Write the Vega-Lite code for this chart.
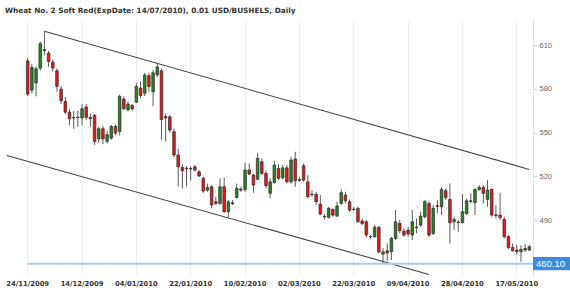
{
  "$schema": "https://vega.github.io/schema/vega-lite/v6.json",
  "width": 533,
  "height": 255,
  "autosize": {"type": "none"},
  "padding": {"left": 0, "top": 20, "right": 37, "bottom": 19},
  "background": "white",
  "title": {
    "text": "Wheat  No. 2 Soft Red(ExpDate: 14/07/2010), 0.01 USD/BUSHELS, Daily",
    "anchor": "start",
    "frame": "group",
    "dx": 5,
    "offset": 6,
    "font": "DejaVu Sans",
    "fontSize": 7.3,
    "fontWeight": "bold",
    "color": "#333333"
  },
  "config": {"view": {"stroke": null}},
  "datasets": {
    "candles": [
      {"date":"24/11/2009","open":599.2,"high":601.1,"low":575,"close":576.4},
      {"date":"25/11/2009","open":579.1,"high":597,"low":577,"close":594.7},
      {"date":"27/11/2009","open":584,"high":595.4,"low":574.8,"close":593.7},
      {"date":"30/11/2009","open":594.2,"high":612.5,"low":592.5,"close":610.9},
      {"date":"01/12/2009","open":606.8,"high":619.5,"low":603,"close":606.2},
      {"date":"02/12/2009","open":604.5,"high":606,"low":595,"close":598.8},
      {"date":"03/12/2009","open":598.3,"high":600,"low":591.9,"close":594.2},
      {"date":"04/12/2009","open":592.4,"high":594,"low":578,"close":581.7},
      {"date":"07/12/2009","open":579.8,"high":582,"low":569.6,"close":571.8},
      {"date":"08/12/2009","open":571.4,"high":574.5,"low":562.5,"close":564},
      {"date":"09/12/2009","open":564,"high":566,"low":555,"close":559.5},
      {"date":"10/12/2009","open":560.3,"high":564.8,"low":552.5,"close":560},
      {"date":"11/12/2009","open":560.3,"high":565,"low":554,"close":560.6},
      {"date":"14/12/2009","open":560,"high":569.4,"low":555,"close":566.3},
      {"date":"15/12/2009","open":567.5,"high":569.5,"low":558.5,"close":560.4},
      {"date":"16/12/2009","open":559.5,"high":563,"low":554,"close":560.5},
      {"date":"17/12/2009","open":561.8,"high":562.8,"low":541.5,"close":544},
      {"date":"18/12/2009","open":545.7,"high":554,"low":543,"close":552.6},
      {"date":"21/12/2009","open":552.6,"high":554.5,"low":542,"close":545.7},
      {"date":"22/12/2009","open":544,"high":551.2,"low":542.6,"close":548.5},
      {"date":"23/12/2009","open":546.2,"high":555.3,"low":545,"close":554.2},
      {"date":"24/12/2009","open":554.2,"high":555.3,"low":548.5,"close":549.6},
      {"date":"28/12/2009","open":550.8,"high":576,"low":548,"close":574.8},
      {"date":"29/12/2009","open":573,"high":574.8,"low":565.6,"close":566.3},
      {"date":"30/12/2009","open":565.6,"high":571.4,"low":564.5,"close":569.5},
      {"date":"31/12/2009","open":568.6,"high":569.5,"low":565,"close":566.3},
      {"date":"04/01/2010","open":570.9,"high":584,"low":570.2,"close":581.7},
      {"date":"05/01/2010","open":580.5,"high":585,"low":573.7,"close":575.5},
      {"date":"06/01/2010","open":577,"high":591,"low":575,"close":589.5},
      {"date":"07/01/2010","open":589,"high":591,"low":578,"close":581.5},
      {"date":"08/01/2010","open":578,"high":593,"low":568,"close":591},
      {"date":"11/01/2010","open":589.5,"high":598,"low":588,"close":595},
      {"date":"12/01/2010","open":592.4,"high":594,"low":545,"close":559},
      {"date":"13/01/2010","open":560,"high":563,"low":544,"close":561},
      {"date":"14/01/2010","open":560.8,"high":562,"low":550,"close":551.7},
      {"date":"15/01/2010","open":550.6,"high":552.7,"low":533,"close":534.6},
      {"date":"19/01/2010","open":534.6,"high":539,"low":513,"close":526.5},
      {"date":"20/01/2010","open":526.1,"high":528.4,"low":511.7,"close":523.8},
      {"date":"21/01/2010","open":525.6,"high":527,"low":513,"close":525.2},
      {"date":"22/01/2010","open":525.3,"high":527,"low":517,"close":525},
      {"date":"25/01/2010","open":526.5,"high":527.7,"low":523.2,"close":524.3},
      {"date":"26/01/2010","open":523.1,"high":524.3,"low":519.5,"close":520.2},
      {"date":"27/01/2010","open":518.6,"high":519.7,"low":508.7,"close":509.9},
      {"date":"28/01/2010","open":510.5,"high":515,"low":509.4,"close":512.3},
      {"date":"29/01/2010","open":512.8,"high":514,"low":498,"close":500.3},
      {"date":"01/02/2010","open":502.5,"high":506,"low":500.3,"close":501.4},
      {"date":"02/02/2010","open":501.4,"high":518.6,"low":500.3,"close":512.8},
      {"date":"03/02/2010","open":512.8,"high":519.2,"low":495,"close":495.7},
      {"date":"04/02/2010","open":495.7,"high":503.7,"low":491.8,"close":502.5},
      {"date":"05/02/2010","open":501.8,"high":503.7,"low":500.3,"close":501.2},
      {"date":"08/02/2010","open":505.5,"high":515,"low":504.8,"close":511.7},
      {"date":"09/02/2010","open":511.2,"high":512.8,"low":509.4,"close":510.5},
      {"date":"10/02/2010","open":511,"high":529.3,"low":509.4,"close":524.3},
      {"date":"11/02/2010","open":524.3,"high":528.8,"low":520.8,"close":521.5},
      {"date":"12/02/2010","open":520.8,"high":521.9,"low":508.7,"close":514},
      {"date":"16/02/2010","open":517.9,"high":536.2,"low":517.4,"close":532.3},
      {"date":"17/02/2010","open":530,"high":532.3,"low":520.8,"close":522},
      {"date":"18/02/2010","open":522,"high":524,"low":511.8,"close":513.5},
      {"date":"19/02/2010","open":508.3,"high":518.6,"low":504.8,"close":516.2},
      {"date":"22/02/2010","open":515.6,"high":530.7,"low":515.1,"close":527.7},
      {"date":"23/02/2010","open":525.4,"high":528.4,"low":517.4,"close":518.6},
      {"date":"24/02/2010","open":519,"high":527.7,"low":517.9,"close":525.8},
      {"date":"25/02/2010","open":525.8,"high":527.7,"low":515.1,"close":516.2},
      {"date":"26/02/2010","open":516.2,"high":533.4,"low":515.1,"close":531.1},
      {"date":"01/03/2010","open":531.8,"high":536.8,"low":512.8,"close":516.9},
      {"date":"02/03/2010","open":517.8,"high":519.7,"low":516.3,"close":517.2},
      {"date":"03/03/2010","open":527.2,"high":528.8,"low":516.2,"close":517.4},
      {"date":"04/03/2010","open":516.2,"high":520.8,"low":504.8,"close":506},
      {"date":"05/03/2010","open":507.8,"high":510.5,"low":506,"close":507.4},
      {"date":"08/03/2010","open":507.6,"high":509.4,"low":500.3,"close":502.5},
      {"date":"09/03/2010","open":500.9,"high":507.1,"low":493.4,"close":494.1},
      {"date":"10/03/2010","open":492.5,"high":494.1,"low":490.4,"close":492.2},
      {"date":"11/03/2010","open":491.8,"high":499.1,"low":491.1,"close":498},
      {"date":"12/03/2010","open":497.3,"high":498,"low":492.3,"close":493.4},
      {"date":"15/03/2010","open":492.7,"high":502.5,"low":492.3,"close":499.6},
      {"date":"16/03/2010","open":501.4,"high":511,"low":500.3,"close":508.7},
      {"date":"18/03/2010","open":507.1,"high":509.4,"low":501.4,"close":503.2},
      {"date":"19/03/2010","open":502.5,"high":504.1,"low":495.7,"close":496.8},
      {"date":"22/03/2010","open":497.5,"high":499.1,"low":496.4,"close":497.2},
      {"date":"23/03/2010","open":498,"high":499.1,"low":488.2,"close":488.8},
      {"date":"24/03/2010","open":489.3,"high":491.1,"low":486.5,"close":487.7},
      {"date":"25/03/2010","open":488.8,"high":490,"low":478.1,"close":479.7},
      {"date":"26/03/2010","open":478.6,"high":479.7,"low":477.4,"close":478.4},
      {"date":"29/03/2010","open":478.5,"high":486.5,"low":478.1,"close":485},
      {"date":"30/03/2010","open":485,"high":485.9,"low":467.1,"close":468.2},
      {"date":"31/03/2010","open":466.6,"high":470.7,"low":460.5,"close":468.2},
      {"date":"01/04/2010","open":468.9,"high":474,"low":462,"close":467.5},
      {"date":"05/04/2010","open":468.3,"high":478.5,"low":462.6,"close":477.4},
      {"date":"06/04/2010","open":477.4,"high":496.8,"low":476.3,"close":488.8},
      {"date":"07/04/2010","open":487.7,"high":490,"low":480.8,"close":482.7},
      {"date":"08/04/2010","open":482.4,"high":484.3,"low":478.5,"close":479.7},
      {"date":"09/04/2010","open":483.1,"high":485.4,"low":478.5,"close":480.4},
      {"date":"12/04/2010","open":479.7,"high":496.8,"low":476.3,"close":488.8},
      {"date":"13/04/2010","open":485.2,"high":491,"low":481,"close":484.8},
      {"date":"14/04/2010","open":486.5,"high":495.7,"low":485.4,"close":492.7},
      {"date":"15/04/2010","open":492.3,"high":503.7,"low":491.1,"close":502.6},
      {"date":"16/04/2010","open":501.4,"high":502.6,"low":478.5,"close":479.7},
      {"date":"19/04/2010","open":480.8,"high":500.3,"low":479.7,"close":498},
      {"date":"20/04/2010","open":499.8,"high":503.7,"low":494.5,"close":499.4},
      {"date":"21/04/2010","open":499.1,"high":512.8,"low":493.4,"close":511},
      {"date":"22/04/2010","open":510.1,"high":511.7,"low":503.7,"close":505.5},
      {"date":"23/04/2010","open":504.2,"high":515.1,"low":474,"close":488.2},
      {"date":"26/04/2010","open":488.8,"high":492.3,"low":483.1,"close":490.4},
      {"date":"27/04/2010","open":488.6,"high":490,"low":482,"close":488.2},
      {"date":"28/04/2010","open":488.2,"high":507.8,"low":487.7,"close":495.7},
      {"date":"29/04/2010","open":494.5,"high":504.8,"low":493.4,"close":503.2},
      {"date":"30/04/2010","open":503.2,"high":508.3,"low":501.4,"close":502.8},
      {"date":"03/05/2010","open":501.9,"high":511.7,"low":493.4,"close":511},
      {"date":"04/05/2010","open":511,"high":514,"low":510.1,"close":512.4},
      {"date":"05/05/2010","open":512.4,"high":514,"low":501.4,"close":508.3},
      {"date":"06/05/2010","open":504.2,"high":517.4,"low":499.1,"close":510.6},
      {"date":"07/05/2010","open":511,"high":511.7,"low":492.3,"close":493.4},
      {"date":"10/05/2010","open":493.6,"high":500.3,"low":491.1,"close":493.2},
      {"date":"11/05/2010","open":493.4,"high":508.7,"low":490,"close":491.8},
      {"date":"12/05/2010","open":490.4,"high":492.3,"low":477.4,"close":478.6},
      {"date":"13/05/2010","open":478.6,"high":479.7,"low":469.9,"close":471.2},
      {"date":"14/05/2010","open":471.2,"high":474,"low":468.3,"close":469},
      {"date":"17/05/2010","open":469.4,"high":472.8,"low":466,"close":468.3},
      {"date":"18/05/2010","open":468.3,"high":472.8,"low":461.4,"close":469.9},
      {"date":"19/05/2010","open":470.5,"high":473.5,"low":468.3,"close":469.4},
      {"date":"20/05/2010","open":469.4,"high":472.8,"low":469,"close":471.7}
    ],
    "trend": [
      {"from":"01/12/2009","to":"20/05/2010","p1":619.5,"p2":524.7},
      {"from":"17/11/2009","to":"16/04/2010","p1":534.2,"p2":452.7}
    ],
    "last": [{"date":"24/11/2009","price":460.1,"label":"460.10"}]
  },
  "layer": [
    {
      "data": {"name": "candles"},
      "mark": {"type": "rule", "color": "#5a5a5a", "strokeWidth": 1},
      "encoding": {
        "x": {
          "field": "date",
          "type": "ordinal",
          "sort": null,
          "scale": {
            "type": "band",
            "paddingInner": 0,
            "paddingOuter": 0.25,
            "align": 0.25,
            "domain": ["16/11/2009","17/11/2009","18/11/2009","19/11/2009","20/11/2009","23/11/2009","24/11/2009","25/11/2009","27/11/2009","30/11/2009","01/12/2009","02/12/2009","03/12/2009","04/12/2009","07/12/2009","08/12/2009","09/12/2009","10/12/2009","11/12/2009","14/12/2009","15/12/2009","16/12/2009","17/12/2009","18/12/2009","21/12/2009","22/12/2009","23/12/2009","24/12/2009","28/12/2009","29/12/2009","30/12/2009","31/12/2009","04/01/2010","05/01/2010","06/01/2010","07/01/2010","08/01/2010","11/01/2010","12/01/2010","13/01/2010","14/01/2010","15/01/2010","19/01/2010","20/01/2010","21/01/2010","22/01/2010","25/01/2010","26/01/2010","27/01/2010","28/01/2010","29/01/2010","01/02/2010","02/02/2010","03/02/2010","04/02/2010","05/02/2010","08/02/2010","09/02/2010","10/02/2010","11/02/2010","12/02/2010","16/02/2010","17/02/2010","18/02/2010","19/02/2010","22/02/2010","23/02/2010","24/02/2010","25/02/2010","26/02/2010","01/03/2010","02/03/2010","03/03/2010","04/03/2010","05/03/2010","08/03/2010","09/03/2010","10/03/2010","11/03/2010","12/03/2010","15/03/2010","16/03/2010","18/03/2010","19/03/2010","22/03/2010","23/03/2010","24/03/2010","25/03/2010","26/03/2010","29/03/2010","30/03/2010","31/03/2010","01/04/2010","05/04/2010","06/04/2010","07/04/2010","08/04/2010","09/04/2010","12/04/2010","13/04/2010","14/04/2010","15/04/2010","16/04/2010","19/04/2010","20/04/2010","21/04/2010","22/04/2010","23/04/2010","26/04/2010","27/04/2010","28/04/2010","29/04/2010","30/04/2010","03/05/2010","04/05/2010","05/05/2010","06/05/2010","07/05/2010","10/05/2010","11/05/2010","12/05/2010","13/05/2010","14/05/2010","17/05/2010","18/05/2010","19/05/2010","20/05/2010"]
          },
          "axis": {
            "title": null,
            "orient": "bottom",
            "values": ["24/11/2009","14/12/2009","04/01/2010","22/01/2010","10/02/2010","02/03/2010","22/03/2010","09/04/2010","28/04/2010","17/05/2010"],
            "grid": true,
            "gridColor": "#e6eef7",
            "gridWidth": 1,
            "domain": false,
            "ticks": false,
            "labelAngle": 0,
            "labelFont": "DejaVu Sans",
            "labelFontSize": 6.8,
            "labelFontWeight": "bold",
            "labelColor": "#333333",
            "labelPadding": 5,
            "labelOverlap": false,
            "labelFlush": false,
            "bandPosition": 0.5
          }
        },
        "y": {
          "field": "low",
          "type": "quantitative",
          "scale": {"domain": [452.3, 627.2], "nice": false, "zero": false},
          "axis": {
            "title": null,
            "orient": "right",
            "values": [490, 520, 550, 580, 610],
            "grid": false,
            "domainColor": "#d3e2f0",
            "tickColor": "#c9d7e4",
            "tickSize": 4,
            "labelFont": "Liberation Sans",
            "labelFontSize": 7.5,
            "labelColor": "#666666",
            "labelPadding": 2
          }
        },
        "y2": {"field": "high"}
      }
    },
    {
      "data": {"name": "candles"},
      "mark": {"type": "bar", "size": 2.6, "stroke": "#2a2a2a", "strokeWidth": 0.7},
      "encoding": {
        "x": {"field": "date", "type": "ordinal", "sort": null},
        "y": {"field": "open", "type": "quantitative"},
        "y2": {"field": "close"},
        "color": {
          "condition": {"test": "datum.close >= datum.open", "value": "#2b8220"},
          "value": "#f21414"
        }
      }
    },
    {
      "data": {"name": "trend"},
      "mark": {"type": "rule", "color": "#444444", "strokeWidth": 1.1},
      "encoding": {
        "x": {"field": "from", "type": "ordinal", "sort": null},
        "x2": {"field": "to"},
        "y": {"field": "p1", "type": "quantitative"},
        "y2": {"field": "p2"}
      }
    },
    {
      "data": {"name": "last"},
      "mark": {"type": "rule", "color": "#a9cbea", "strokeWidth": 2},
      "encoding": {
        "x": {"field": "date", "type": "ordinal", "sort": null},
        "x2": {"value": "width"},
        "y": {"field": "price", "type": "quantitative"}
      }
    },
    {
      "data": {"name": "last"},
      "mark": {"type": "point", "shape": "M0,-0.18L1,-0.18L1,0.18L0,0.18Z", "size": 5476, "filled": true, "color": "#3d8bd8", "opacity": 1, "strokeWidth": 0},
      "encoding": {
        "x": {"value": "width"},
        "y": {"field": "price", "type": "quantitative"}
      }
    },
    {
      "data": {"name": "last"},
      "mark": {"type": "text", "align": "left", "baseline": "middle", "dx": 3, "font": "Liberation Sans", "fontSize": 9.5, "color": "white"},
      "encoding": {
        "x": {"value": "width"},
        "y": {"field": "price", "type": "quantitative"},
        "text": {"field": "label"}
      }
    }
  ]
}
